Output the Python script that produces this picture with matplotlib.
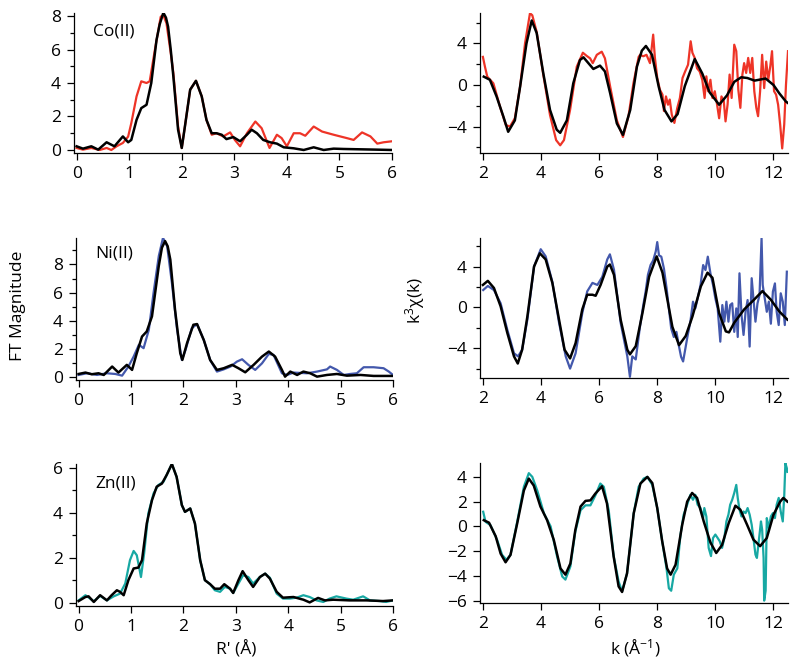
import matplotlib
matplotlib.use("Agg")
import matplotlib.pyplot as plt
from matplotlib.ticker import FixedLocator

plt.rcParams['font.family'] = ['Open Sans', 'DejaVu Sans']
plt.rcParams['mathtext.fontset'] = 'custom'
plt.rcParams['mathtext.rm'] = 'Open Sans'
plt.rcParams['mathtext.it'] = 'Open Sans'

# ---- R-space (FT magnitude) ----
co_r_fit = [0, 0.12, 0.28, 0.41, 0.57, 0.72, 0.88, 0.98, 1.04, 1.14, 1.23, 1.33, 1.42, 1.52, 1.58, 1.65,
            1.70, 1.74, 1.79, 1.84, 1.93, 2.0, 2.06, 2.16, 2.27, 2.38, 2.47, 2.57, 2.66, 2.76, 2.85,
            2.98, 3.11, 3.24, 3.33, 3.43, 3.55, 3.68, 3.81, 3.94, 4.13, 4.32, 4.51, 4.70, 4.89,
            5.08, 5.4, 5.72, 6.0]
co_ft_fit = [0.22, 0.08, 0.22, 0.02, 0.46, 0.22, 0.81, 0.46, 0.6, 1.8, 2.5, 2.7, 4.0, 6.57, 7.5, 8.2,
             7.9, 7.36, 6.0, 4.4, 1.21, 0.12, 1.4, 3.6, 4.13, 3.2, 1.8, 1.0, 1.0, 0.91, 0.65,
             0.77, 0.52, 0.91, 1.21, 1.0, 0.6, 0.46, 0.38, 0.16, 0.1, 0.0, 0.16, 0.0, 0.08,
             0.06, 0.04, 0.02, 0.0]
co_r_exp = [0, 0.12, 0.28, 0.44, 0.57, 0.66, 0.76, 0.88, 0.98, 1.04, 1.14, 1.23, 1.33, 1.39, 1.49,
            1.60, 1.65, 1.71, 1.79, 1.84, 1.93, 2.0, 2.06, 2.16, 2.27, 2.38, 2.47, 2.57, 2.66,
            2.79, 2.92, 3.01, 3.11, 3.24, 3.4, 3.52, 3.67, 3.81, 3.9, 4.0, 4.13, 4.25, 4.35,
            4.51, 4.67, 4.89, 5.14, 5.27, 5.43, 5.59, 5.72, 5.84, 6.0]
co_ft_exp = [0.12, 0.02, 0.12, 0.0, 0.12, 0.0, 0.22, 0.42, 0.8, 1.6, 3.2, 4.1, 4.0, 4.1, 6.0,
             7.96, 8.05, 7.56, 5.8, 4.6, 1.4, 0.12, 1.4, 3.6, 4.13, 3.2, 1.8, 0.91, 1.0,
             0.81, 1.05, 0.6, 0.22, 1.0, 1.7, 1.3, 0.12, 0.91, 0.71, 0.22, 1.0, 1.0, 0.85,
             1.4, 1.1, 0.91, 0.71, 0.6, 1.05, 0.81, 0.38, 0.46, 0.52]

ni_r_fit = [0, 0.13, 0.25, 0.38, 0.48, 0.64, 0.76, 0.92, 1.02, 1.11, 1.21, 1.30, 1.40, 1.53, 1.59,
            1.65, 1.70, 1.75, 1.84, 1.94, 1.98, 2.07, 2.19, 2.26, 2.39, 2.51, 2.64, 2.77, 2.93,
            3.05, 3.18, 3.34, 3.5, 3.63, 3.75, 3.88, 3.94, 4.04, 4.17, 4.29, 4.42, 4.55, 4.74,
            4.93, 5.12, 5.38, 5.63, 6.0]
ni_ft_fit = [0.19, 0.29, 0.17, 0.24, 0.12, 0.72, 0.29, 0.84, 0.48, 1.67, 2.86, 3.22, 4.3, 7.9, 9.2,
             9.67, 9.3, 8.35, 4.77, 1.67, 1.19, 2.4, 3.7, 3.75, 2.6, 1.19, 0.48, 0.6, 0.84,
             0.6, 0.31, 0.84, 1.43, 1.79, 1.43, 0.48, 0.0, 0.36, 0.12, 0.36, 0.24, 0.0, 0.12,
             0.19, 0.07, 0.12, 0.05, 0.05]
ni_r_exp = [0, 0.16, 0.35, 0.54, 0.70, 0.83, 0.95, 1.05, 1.15, 1.24, 1.34, 1.43, 1.53, 1.61, 1.69,
            1.78, 1.88, 1.97, 2.04, 2.16, 2.26, 2.39, 2.51, 2.64, 2.77, 2.90, 3.02, 3.12, 3.24,
            3.37, 3.5, 3.63, 3.72, 3.88, 3.98, 4.1, 4.36, 4.55, 4.74, 4.8, 4.93, 5.06, 5.18,
            5.31, 5.44, 5.63, 5.82, 5.92, 6.0]
ni_ft_exp = [0.12, 0.24, 0.12, 0.24, 0.19, 0.07, 0.72, 1.43, 2.27, 2.03, 3.34, 5.97, 8.6, 9.9, 9.3,
             6.7, 3.34, 1.19, 1.9, 3.46, 3.75, 2.6, 1.19, 0.36, 0.52, 0.72, 1.07, 1.24, 0.84,
             0.48, 0.95, 1.62, 1.55, 0.24, 0.12, 0.29, 0.24, 0.36, 0.52, 0.72, 0.48, 0.12, 0.19,
             0.24, 0.67, 0.67, 0.6, 0.36, 0.12]

zn_r_fit = [0, 0.13, 0.19, 0.29, 0.41, 0.54, 0.63, 0.73, 0.79, 0.86, 0.95, 1.05, 1.14, 1.21, 1.3,
            1.4, 1.49, 1.59, 1.68, 1.78, 1.87, 1.97, 2.03, 2.13, 2.22, 2.32, 2.41, 2.51, 2.6,
            2.7, 2.78, 2.89, 2.95, 3.05, 3.13, 3.24, 3.33, 3.46, 3.56, 3.65, 3.78, 3.9, 4.1,
            4.29, 4.41, 4.57, 4.7, 4.86, 5.17, 5.49, 5.81, 6.0]
zn_ft_fit = [0.07, 0.25, 0.28, 0.03, 0.33, 0.1, 0.33, 0.55, 0.48, 0.33, 1.0, 1.52, 1.56, 1.89, 3.52,
             4.56, 5.16, 5.3, 5.68, 6.17, 5.6, 4.34, 4.04, 4.19, 3.52, 1.89, 1.0, 0.82, 0.62,
             0.62, 0.82, 0.62, 0.43, 1.0, 1.4, 1.0, 0.7, 1.14, 1.29, 1.07, 0.48, 0.22, 0.25,
             0.13, 0.01, 0.21, 0.1, 0.13, 0.1, 0.1, 0.07, 0.1]
zn_r_exp = [0, 0.13, 0.29, 0.41, 0.54, 0.67, 0.79, 0.89, 0.98, 1.05, 1.11, 1.19, 1.25, 1.33, 1.43,
            1.52, 1.62, 1.68, 1.78, 1.87, 1.97, 2.03, 2.13, 2.22, 2.32, 2.41, 2.51, 2.6, 2.7,
            2.79, 2.89, 2.95, 3.05, 3.14, 3.24, 3.33, 3.46, 3.56, 3.65, 3.78, 3.9, 4.03, 4.16,
            4.29, 4.41, 4.54, 4.67, 4.79, 4.92, 5.11, 5.24, 5.43, 5.56, 5.75, 5.87, 6.0]
zn_ft_exp = [0.1, 0.33, 0.06, 0.3, 0.1, 0.28, 0.4, 0.85, 1.89, 2.3, 2.11, 1.14, 2.18, 3.97, 4.86,
             5.23, 5.38, 5.68, 6.17, 5.6, 4.34, 4.04, 4.19, 3.52, 1.89, 1.0, 0.82, 0.55, 0.48,
             0.7, 0.62, 0.43, 0.85, 1.22, 1.14, 0.85, 1.14, 1.29, 1.11, 0.4, 0.18, 0.18, 0.22,
             0.33, 0.25, 0.1, 0.03, 0.18, 0.28, 0.18, 0.13, 0.28, 0.1, 0.07, 0.03, 0.1]

# ---- k-space (k^3 chi) ----
co_k_fit = [2.03, 2.24, 2.47, 2.70, 2.87, 3.1, 3.28, 3.5, 3.68, 3.85, 4.08, 4.31, 4.54, 4.66, 4.89,
            5.11, 5.34, 5.46, 5.63, 5.80, 6.03, 6.2, 6.38, 6.61, 6.82, 7.07, 7.30, 7.47, 7.61,
            7.82, 8.05, 8.25, 8.49, 8.7, 8.95, 9.29, 9.55, 9.8, 10.13, 10.4, 10.65, 10.89,
            11.1, 11.35, 11.73, 12.0, 12.2, 12.43, 12.5]
co_chi_fit = [0.8, 0.5, -1.1, -3.0, -4.5, -3.4, -0.16, 4.0, 6.2, 5.0, 1.1, -2.4, -4.3, -4.6, -3.4,
              0.16, 2.4, 2.66, 2.1, 1.54, 1.86, 1.3, -0.8, -3.7, -4.8, -2.4, 1.76, 3.3, 3.75,
              2.9, -0.16, -2.4, -3.5, -2.8, -0.1, 2.5, 1.1, -0.7, -1.9, -1.0, 0.3, 0.74,
              0.67, 0.42, 0.62, 0.0, -0.8, -1.6, -1.74]
co_k_exp = [2.0, 2.07, 2.15, 2.36, 2.59, 2.79, 2.93, 3.1, 3.28, 3.45, 3.62, 3.70, 3.85, 4.08, 4.31,
            4.52, 4.66, 4.79, 5.0, 5.23, 5.44, 5.57, 5.69, 5.78, 5.92, 6.09, 6.2, 6.38, 6.61,
            6.82, 7.01, 7.18, 7.36, 7.41, 7.52, 7.63, 7.75, 7.86, 7.92, 8.0, 8.09, 8.18, 8.23,
            8.30, 8.37, 8.43, 8.50, 8.59, 8.69, 8.78, 8.87, 8.96, 9.06, 9.15, 9.21, 9.29, 9.37,
            9.46, 9.55, 9.63, 9.69, 9.75, 9.83, 9.90, 9.98, 10.06, 10.13, 10.21, 10.29, 10.35,
            10.42, 10.49, 10.56, 10.65, 10.72, 10.79, 10.86, 10.93, 10.99, 11.06, 11.13, 11.2,
            11.27, 11.34, 11.41, 11.47, 11.54, 11.61, 11.68, 11.75, 11.82, 11.89, 11.95, 12.02,
            12.09, 12.16, 12.23, 12.30, 12.37, 12.43, 12.5]
co_chi_exp = [2.7, 1.76, 0.8, 0.16, -2.1, -3.85, -4.0, -3.2, -0.16, 4.0, 6.9, 6.7, 5.1, 0.96, -2.9,
              -5.3, -5.8, -5.3, -2.4, 1.76, 3.1, 2.8, 2.56, 2.1, 2.9, 3.2, 2.56, -0.16, -3.4,
              -5.0, -3.0, 0.16, 2.7, 2.9, 2.76, 2.9, 2.1, 4.84, 2.6, 0.67, -0.45, -0.93, -2.5,
              -1.1, -1.9, -1.4, -2.85, -3.65, -2.2, -1.25, 0.67, 1.3, 1.95, 4.2, 3.1, 2.6, 1.6,
              1.3, 0.5, -1.25, 0.83, -0.6, 0.5, -1.25, -0.6, -1.9, -3.2, -1.1, -1.55, -3.5,
              -1.9, 1.0, -1.25, 3.87, 3.25, -0.45, -2.2, 1.0, 2.1, 1.16, 2.6, 1.16,
              2.6, -0.6, -2.2, -3.0, -0.6, 2.9, -0.3, 2.25, 0.5, 1.8, 3.25, -0.6,
              -0.93, -1.9, -3.8, -6.1, -3.8, 0.0, 3.25]

ni_k_fit = [2.0, 2.17, 2.38, 2.61, 2.84, 3.07, 3.2, 3.35, 3.53, 3.76, 3.96, 4.16, 4.39, 4.62, 4.81,
            5.0, 5.19, 5.42, 5.59, 5.77, 5.88, 6.05, 6.28, 6.37, 6.51, 6.74, 6.97, 7.06, 7.26,
            7.49, 7.72, 7.98, 8.18, 8.35, 8.52, 8.75, 8.98, 9.21, 9.50, 9.73, 9.9, 10.13, 10.36,
            10.47, 10.65, 10.99, 11.33, 11.62, 11.91, 12.2, 12.48]
ni_chi_fit = [2.2, 2.6, 1.9, 0.1, -2.5, -4.8, -5.5, -4.15, -0.9, 4.0, 5.3, 4.7, 2.4, -1.2, -4.15,
              -5.0, -3.5, -0.2, 1.24, 1.24, 1.14, 2.2, 4.0, 4.2, 3.2, -1.2, -4.15, -4.6, -3.8,
              -0.56, 3.0, 5.0, 3.4, 0.75, -1.9, -3.7, -2.8, -0.9, 2.06, 3.4, 2.9, -0.56, -2.35,
              -2.45, -1.5, -0.2, 0.75, 1.6, 0.75, -0.4, -1.2]
ni_k_exp = [2.01, 2.17, 2.38, 2.61, 2.84, 3.07, 3.21, 3.35, 3.53, 3.76, 3.99, 4.16, 4.39, 4.62, 4.85,
            5.0, 5.19, 5.42, 5.59, 5.77, 5.94, 6.11, 6.28, 6.37, 6.51, 6.74, 6.97, 7.06, 7.14,
            7.26, 7.40, 7.52, 7.6, 7.68, 7.77, 7.86, 7.95, 8.0, 8.06, 8.14, 8.23, 8.32, 8.4,
            8.48, 8.57, 8.66, 8.74, 8.82, 8.89, 8.97, 9.05, 9.14, 9.23, 9.31, 9.39, 9.49, 9.58,
            9.66, 9.74, 9.83, 9.92, 10.0, 10.08, 10.17, 10.24, 10.31, 10.38, 10.45, 10.51,
            10.58, 10.65, 10.72, 10.77, 10.83, 10.9, 10.97, 11.04, 11.11, 11.18, 11.25, 11.31,
            11.38, 11.45, 11.52, 11.59, 11.63, 11.7, 11.77, 11.84, 11.91, 11.98, 12.05, 12.11,
            12.18, 12.25, 12.32, 12.39, 12.46]
ni_chi_exp = [1.7, 2.1, 1.7, 0.4, -2.2, -4.5, -4.8, -4.15, -1.2, 4.0, 5.7, 5.0, 2.5, -1.5, -4.8,
              -6.0, -4.5, -0.56, 1.57, 2.4, 2.2, 3.0, 4.7, 5.2, 3.7, -1.5, -4.8, -6.8, -4.8,
              -5.1, -2.0, 0.23, 1.54, 3.2, 4.15, 4.6, 5.5, 6.4, 5.1, 4.97, 3.8, 1.9, -0.1,
              -2.06, -2.9, -2.4, -3.7, -4.84, -5.3, -4.0, -2.7, -1.4, 0.56, -0.1, 0.88, 2.2, 4.15,
              3.66, 4.97, 3.34, 2.2, 0.88, -0.1, -3.36, 0.23, -1.4, 0.56, -1.4, 0.23,
              0.4, -2.4, -0.1, -2.9, 3.34, -0.75, -2.7, -0.43, 0.72, -3.84, 2.86, 0.88,
              -1.4, 0.4, 1.2, 6.77, 2.2, 0.88, -0.43, 0.56, -1.6, 1.54, 2.35, -0.43,
              -1.73, 1.38, 0.56, -1.73, 3.5]

zn_k_fit = [2.03, 2.21, 2.44, 2.61, 2.78, 2.95, 3.18, 3.41, 3.58, 3.75, 3.98, 4.21, 4.44, 4.67, 4.84,
            5.01, 5.18, 5.36, 5.53, 5.7, 5.87, 6.1, 6.27, 6.5, 6.67, 6.79, 6.96, 7.19, 7.42,
            7.66, 7.83, 8.0, 8.17, 8.34, 8.46, 8.63, 8.86, 9.03, 9.2, 9.37, 9.6, 9.83, 10.03,
            10.23, 10.46, 10.69, 10.86, 11.09, 11.31, 11.54, 11.77, 12.0, 12.23, 12.34, 12.48]
zn_chi_fit = [0.5, 0.3, -0.8, -2.2, -2.9, -2.3, 0.24, 2.9, 3.86, 3.3, 1.6, 0.5, -1.1, -3.4, -3.9,
              -3.0, -0.3, 1.6, 2.06, 2.1, 2.65, 3.24, 1.85, -2.44, -4.85, -5.3, -3.8, 1.05, 3.46,
              4.0, 3.5, 1.48, -1.2, -3.4, -3.9, -3.1, 0.14, 2.0, 2.7, 2.3, 0.4, -1.3, -2.15,
              -1.5, 0.27, 1.67, 1.35, 0.14, -1.07, -1.6, -0.94, 0.94, 2.0, 2.3, 2.0]
zn_k_exp = [2.01, 2.09, 2.26, 2.49, 2.66, 2.81, 2.95, 3.18, 3.41, 3.58, 3.7, 3.87, 4.1, 4.33, 4.55,
            4.73, 4.84, 5.01, 5.18, 5.36, 5.53, 5.7, 5.87, 6.04, 6.16, 6.33, 6.5, 6.67, 6.79,
            6.96, 7.19, 7.36, 7.53, 7.66, 7.83, 8.0, 8.17, 8.32, 8.4, 8.48, 8.57, 8.69, 8.8,
            8.91, 9.03, 9.14, 9.23, 9.31, 9.39, 9.49, 9.58, 9.62, 9.69, 9.77, 9.85, 9.92, 10.0,
            10.08, 10.15, 10.23, 10.31, 10.38, 10.45, 10.51, 10.58, 10.65, 10.72, 10.77, 10.83,
            10.9, 10.97, 11.04, 11.11, 11.18, 11.25, 11.31, 11.38, 11.43, 11.5, 11.57, 11.61,
            11.66, 11.68, 11.73, 11.77, 11.84, 11.91, 11.98, 12.05, 12.11, 12.18, 12.25, 12.32,
            12.37, 12.41, 12.46, 12.48]
zn_chi_exp = [1.18, 0.37, 0.1, -1.1, -2.3, -2.7, -2.3, 0.37, 3.2, 4.3, 4.0, 2.9, 1.05, 0.0, -2.4,
              -4.05, -4.3, -3.24, -0.43, 1.3, 1.7, 1.7, 2.5, 3.46, 3.2, 1.3, -2.4, -4.45, -5.25,
              -3.8, 1.05, 3.2, 3.86, 4.0, 3.35, 1.48, -1.2, -3.4, -5.0, -5.2, -3.9, -3.4, -0.66,
              0.95, 1.75, 2.55, 2.15, 2.55, 1.75, 1.48, 0.67, 1.48, 0.8, -1.74, -2.4, -0.94, -0.66,
              -0.94, -1.2, -1.74, -0.94, 0.4, 0.95, 1.75, 2.15, 2.7, 3.35, 2.3, 1.35,
              0.8, 1.2, 1.07, 1.48, 0.95, 0.14, -0.94, -2.28, -2.55, -1.07, 0.4, -0.26,
              -2.55, -6.0, -5.2, 0.67, -0.13, 0.8, 1.07, 0.67, 1.75, 2.3, 1.2, 0.4,
              2.45, 5.1, 4.7, 4.4]

labels = ['Co(II)', 'Ni(II)', 'Zn(II)']
colors = ['#ee3427', '#4358ac', '#17a8a3']

W, H = 800, 670
fig = plt.figure(figsize=(8, 6.7), dpi=100)


def add_ax(left, top, right, bottom):
    return fig.add_axes([left / W, 1 - bottom / H, (right - left) / W, (bottom - top) / H])


def style(ax):
    for s in ['top', 'right']:
        ax.spines[s].set_visible(False)
    for s in ['left', 'bottom']:
        ax.spines[s].set_linewidth(0.9)
    ax.tick_params(which='major', direction='out', length=5, width=0.9, labelsize=12.5, pad=4.5)
    ax.tick_params(which='minor', direction='out', length=3, width=0.9)


r_panels = [
    (co_r_exp, co_ft_exp, co_r_fit, co_ft_fit, (74, 13, 392, 153), (-0.18, 8.18), [0, 2, 4, 6, 8], [1, 3, 5, 7], 0.866),
    (ni_r_exp, ni_ft_exp, ni_r_fit, ni_ft_fit, (76, 238, 393, 380), (-0.24, 9.89), [0, 2, 4, 6, 8], [1, 3, 5, 7, 9], 0.894),
    (zn_r_exp, zn_ft_exp, zn_r_fit, zn_ft_fit, (76, 464, 393, 606), (-0.15, 6.17), [0, 2, 4, 6], [1, 3, 5], 0.864),
]
k_panels = [
    (co_k_exp, co_chi_exp, co_k_fit, co_chi_fit, (480, 13, 788, 153), (-6.54, 6.92), [-4, 0, 4], [-6, -2, 2, 6]),
    (ni_k_exp, ni_chi_exp, ni_k_fit, ni_chi_fit, (480, 238, 788, 378), (-6.92, 6.8), [-4, 0, 4], [-6, -2, 2, 6]),
    (zn_k_exp, zn_chi_exp, zn_k_fit, zn_chi_fit, (480, 463, 788, 603), (-6.19, 5.12), [-6, -4, -2, 0, 2, 4], []),
]

for i, (rx, ry, fx, fy, box, ylim, yt, ymt, ly) in enumerate(r_panels):
    ax = add_ax(*box)
    style(ax)
    ax.plot(rx, ry, color=colors[i], lw=1.6, solid_joinstyle='round')
    ax.plot(fx, fy, color='black', lw=1.8, solid_joinstyle='round')
    ax.set_xlim(-0.05, 6.0)
    ax.set_ylim(*ylim)
    ax.set_xticks(range(0, 7))
    ax.set_yticks(yt)
    ax.yaxis.set_minor_locator(FixedLocator(ymt))
    ax.text(0.06, ly, labels[i], transform=ax.transAxes, fontsize=12.5, va='center', ha='left')

for i, (kx, ky, fx, fy, box, ylim, yt, ymt) in enumerate(k_panels):
    ax = add_ax(*box)
    style(ax)
    ax.plot(kx, ky, color=colors[i], lw=1.6, solid_joinstyle='round')
    ax.plot(fx, fy, color='black', lw=1.8, solid_joinstyle='round')
    ax.set_xlim(1.9, 12.5)
    ax.set_ylim(*ylim)
    ax.set_xticks([2, 4, 6, 8, 10, 12])
    ax.set_yticks(yt)
    ax.yaxis.set_minor_locator(FixedLocator(ymt))

fig.text(18 / W, 1 - 306 / H, 'FT Magnitude', rotation=90, fontsize=12.5, ha='center', va='center')
fig.text(415 / W, 1 - 301 / H, r'k$^{3}$χ(k)', rotation=90, fontsize=12.5, ha='center', va='center')
fig.text(236 / W, 1 - 650 / H, "R' (Å)", fontsize=12.5, ha='center', va='center')
fig.text(635 / W, 1 - 648 / H, r'k (Å$^{-1}$)', fontsize=12.5, ha='center', va='center')

fig.savefig('out.png', dpi=100)
